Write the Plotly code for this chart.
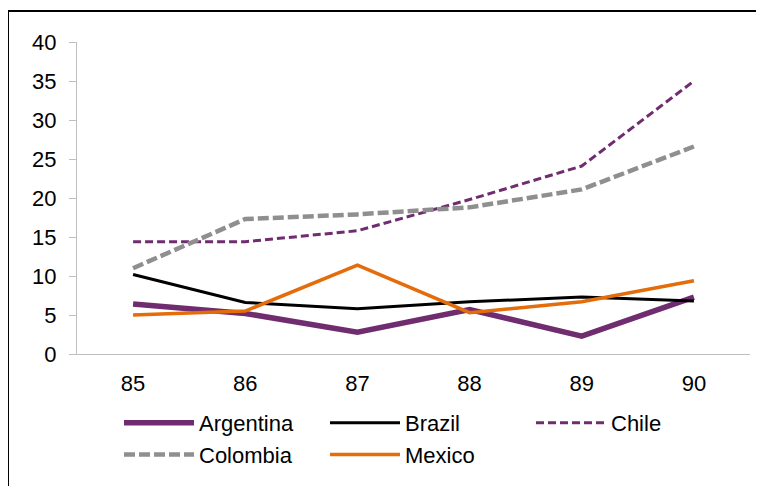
import plotly.graph_objects as go

years = ["85", "86", "87", "88", "89", "90"]
argentina = [6.4, 5.2, 2.8, 5.7, 2.3, 7.3]
brazil = [10.2, 6.6, 5.8, 6.7, 7.3, 6.8]
chile = [14.4, 14.4, 15.8, 19.8, 24.1, 35.0]
colombia = [11.0, 17.3, 17.9, 18.8, 21.1, 26.6]
mexico = [5.0, 5.5, 11.4, 5.3, 6.7, 9.4]
y_ticks = [0, 5, 10, 15, 20, 25, 30, 35, 40]

PURPLE = "#6F2C6F"
GRAY = "#8F8F8F"
ORANGE = "#E46C0A"

fig = go.Figure()
fig.add_trace(go.Scatter(x=years, y=argentina, name="Argentina", mode="lines",
                         line=dict(color=PURPLE, width=5.5)))
fig.add_trace(go.Scatter(x=years, y=brazil, name="Brazil", mode="lines",
                         line=dict(color="#000000", width=3)))
fig.add_trace(go.Scatter(x=years, y=chile, name="Chile", mode="lines",
                         line=dict(color=PURPLE, width=3, dash="8px,4px")))
fig.add_trace(go.Scatter(x=years, y=colombia, name="Colombia", mode="lines",
                         line=dict(color=GRAY, width=4.5, dash="11px,4px")))
fig.add_trace(go.Scatter(x=years, y=mexico, name="Mexico", mode="lines",
                         line=dict(color=ORANGE, width=3.5)))

W, H = 764, 486
OFF = 8  # page body margin
L, R, T, B = 77 - OFF, 14 + OFF, 42 - OFF, 132 + OFF
pw, ph = W - L - R, H - T - B

def px_x(p):
    return (p - OFF - L) / pw

def px_y(p):
    return (H - B - (p - OFF)) / ph

fig.update_layout(
    width=W, height=H,
    margin=dict(l=L, r=R, t=T, b=B, autoexpand=False),
    paper_bgcolor="white", plot_bgcolor="white",
    font=dict(family="Liberation Sans, Arial, sans-serif", size=22, color="#000000"),
    showlegend=True,
    legend=dict(orientation="h", x=px_x(119), y=px_y(402), xanchor="left", yanchor="top",
                entrywidth=121, itemwidth=70, font=dict(size=22),
                bgcolor="rgba(0,0,0,0)"),
    xaxis=dict(type="category", range=[-0.5, 5.5], showline=True, linecolor="#BFBFBF",
               linewidth=1, ticks="", showgrid=False, zeroline=False,
               ticklabelstandoff=10),
    yaxis=dict(range=[0, 40], tickvals=y_ticks, showline=True, linecolor="#BFBFBF",
               linewidth=1, ticks="outside", ticklen=7, tickcolor="#BFBFBF",
               showgrid=False, zeroline=False, ticklabelstandoff=8),
    shapes=[
        dict(type="line", xref="paper", yref="paper", x0=px_x(8), x1=px_x(766),
             y0=px_y(11), y1=px_y(11), line=dict(color="#000000", width=2)),
        dict(type="line", xref="paper", yref="paper", x0=px_x(8), x1=px_x(8),
             y0=px_y(11), y1=px_y(494), line=dict(color="#000000", width=2)),
    ],
)

fig.write_html("out.html", config={"displayModeBar": False})
